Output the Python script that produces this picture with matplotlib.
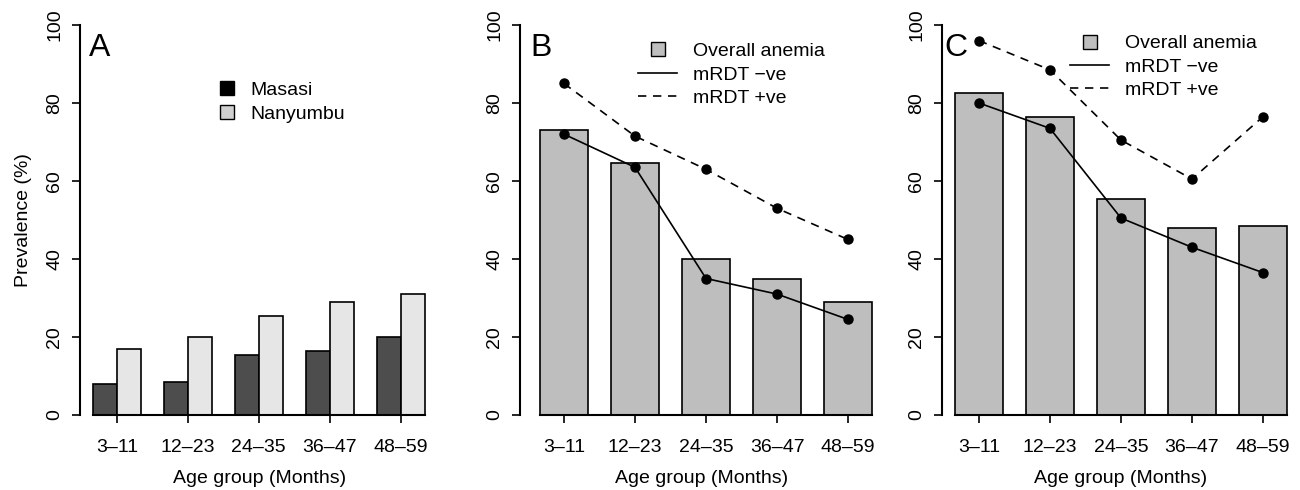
import matplotlib
matplotlib.use('Agg')
import matplotlib.pyplot as plt
from matplotlib.lines import Line2D
import numpy as np

plt.rcParams['font.family'] = ['Liberation Sans', 'DejaVu Sans']

age_groups = ['3\u201311', '12\u201323', '24\u201335', '36\u201347', '48\u201359']

# panel A
masasi = [8, 8.5, 15.5, 16.5, 20]
nanyumbu = [17, 20, 25.5, 29, 31]

# panel B
overall_b = [73, 64.5, 40, 35, 29]
neg_b = [72, 63.5, 35, 31, 24.5]
pos_b = [85, 71.5, 63, 53, 45]

# panel C
overall_c = [82.5, 76.5, 55.5, 48, 48.5]
neg_c = [80, 73.5, 50.5, 43, 36.5]
pos_c = [96, 88.5, 70.5, 60.5, 76.5]

W, H = 1300, 490
fig = plt.figure(figsize=(13, 4.9), dpi=100)
FS = 14


def px_axes(left, right, xlim):
    bottom, top = 415, 25
    ax = fig.add_axes([left / W, (H - bottom) / H, (right - left) / W, (bottom - top) / H])
    ax.set_xlim(*xlim)
    ax.set_ylim(0, 100)
    return ax


def style(ax, xmin, xmax):
    x = np.arange(len(age_groups))
    for s in ['top', 'right']:
        ax.spines[s].set_visible(False)
    ax.spines['left'].set_linewidth(1.5)
    ax.spines['bottom'].set_linewidth(1.5)
    ax.spines['left'].set_bounds(0, 100)
    ax.spines['bottom'].set_bounds(xmin, xmax)
    ax.set_xticks(x)
    ax.set_xticklabels(age_groups)
    ax.set_yticks([0, 20, 40, 60, 80, 100])
    ax.tick_params(axis='both', length=6, width=1.2, labelsize=FS)
    ax.tick_params(axis='x', pad=11)
    ax.tick_params(axis='y', pad=6)
    for lab in ax.get_yticklabels():
        lab.set_rotation(90)
        lab.set_va('center')
    ax.set_xlabel('Age group (Months)', fontsize=FS)
    ax.xaxis.set_label_coords(0.505, -0.14)
    ax.xaxis.label.set_va('top')


x = np.arange(len(age_groups))

# ---- A
axA = px_axes(80, 436, (-0.52, 4.5))
bw = 0.338
axA.bar(x - bw / 2, masasi, bw, color='#4d4d4d', edgecolor='black', linewidth=1.2)
axA.bar(x + bw / 2, nanyumbu, bw, color='#e6e6e6', edgecolor='black', linewidth=1.2)
style(axA, -bw, 4 + bw)
axA.set_ylabel('Prevalence (%)', fontsize=FS)
axA.yaxis.set_label_coords(-0.135, 0.5)
axA.text(0.025, 0.94, 'A', transform=axA.transAxes, fontsize=23, va='center', ha='left')
hA = [Line2D([], [], ls='none', marker='s', ms=10, mfc='black', mec='black'),
      Line2D([], [], ls='none', marker='s', ms=10, mfc='#d0d0d0', mec='black')]
axA.legend(hA, ['Masasi', 'Nanyumbu'], loc='upper left', bbox_to_anchor=(0.385, 0.855),
           frameon=False, fontsize=FS, handlelength=1.0, handletextpad=0.7,
           labelspacing=0.3, borderpad=0, borderaxespad=0)


def anemia_panel(ax, overall, neg, pos, letter, leg_xy, letter_x):
    bw = 0.676
    ax.bar(x, overall, bw, color='#bebebe', edgecolor='black', linewidth=1.2)
    ax.plot(x, neg, color='black', lw=1.2, marker='o', ms=6.5, clip_on=False)
    ax.plot(x, pos, color='black', lw=1.2, ls=(0, (5, 4)), marker='o', ms=6.5, clip_on=False)
    style(ax, -bw / 2, 4 + bw / 2)
    ax.text(letter_x, 0.94, letter, transform=ax.transAxes, fontsize=23, va='center', ha='left')
    h = [Line2D([], [], ls='none', marker='s', ms=10, mfc='#bebebe', mec='black'),
         Line2D([], [], color='black', lw=1.2),
         Line2D([], [], color='black', lw=1.2, ls=(0, (5, 4)))]
    ax.legend(h, ['Overall anemia', 'mRDT \u2212ve', 'mRDT +ve'], loc='upper left',
              bbox_to_anchor=leg_xy, frameon=False, fontsize=FS, handlelength=2.0,
              handletextpad=0.8, labelspacing=0.3, borderpad=0, borderaxespad=0)


# ---- B
axB = px_axes(520, 880, (-0.62, 4.45))
anemia_panel(axB, overall_b, neg_b, pos_b, 'B', (0.328, 0.955), 0.03)

# ---- C
axC = px_axes(942, 1295, (-0.52, 4.45))
anemia_panel(axC, overall_c, neg_c, pos_c, 'C', (0.363, 0.975), 0.008)

fig.savefig('out.png', dpi=100)
